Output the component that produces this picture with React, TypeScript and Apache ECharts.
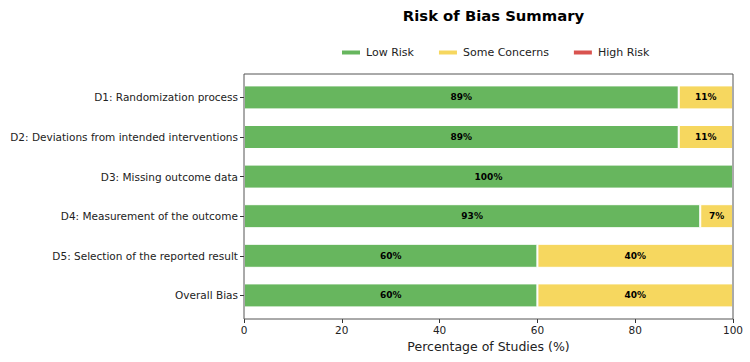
import React, { useEffect, useRef } from "react";
import * as echarts from "echarts";

const categories = [
  "D1: Randomization process",
  "D2: Deviations from intended interventions",
  "D3: Missing outcome data",
  "D4: Measurement of the outcome",
  "D5: Selection of the reported result",
  "Overall Bias",
];
const lowRisk = [88.9, 88.9, 100, 93.3, 60, 60];
const someConcerns = [11.1, 11.1, 0, 6.7, 40, 40];
const highRisk = [0, 0, 0, 0, 0, 0];
const xTicks = [0, 20, 40, 60, 80, 100];

const FONT = "DejaVu Sans";

export default function App() {
  const ref = useRef<HTMLDivElement>(null);
  useEffect(() => {
    if (!ref.current) return;
    const chart = echarts.init(ref.current, null, { renderer: "svg" });
    const left = 244;
    const right = 733;
    const frameTop = 74;
    const frameBottom = 319;
    const gridTop = 77.6;
    const gridHeight = 237.6;
    const label = {
      show: true,
      position: "inside" as const,
      fontFamily: FONT,
      fontSize: 9,
      fontWeight: "bold" as const,
      color: "#000",
      formatter: (p: any) => (p.value > 0 ? Math.round(p.value) + "%" : ""),
    };
    const mk = (name: string, data: number[], color: string) => ({
      name,
      type: "bar",
      stack: "total",
      data,
      barWidth: 24,
      itemStyle: { color, borderColor: "#fff", borderWidth: 1 },
      label,
      emphasis: { disabled: true },
    });
    chart.setOption({
      animation: false,
      title: {
        text: "Risk of Bias Summary",
        left: (left + right) / 2,
        textAlign: "center",
        top: 3,
        textStyle: { fontFamily: FONT, fontSize: 14.8, fontWeight: "bold", color: "#000" },
      },
      legend: {
        top: 42,
        left: 335,
        itemWidth: 20,
        itemHeight: 6,
        itemGap: 23,
        icon: "rect",
        textStyle: { fontFamily: FONT, fontSize: 11, color: "#222" },
        data: ["Low Risk", "Some Concerns", "High Risk"],
      },
      grid: {
        left,
        width: right - left,
        top: gridTop,
        height: gridHeight,
        containLabel: false,
        outerBoundsMode: "none",
      },
      xAxis: {
        type: "value",
        min: 0,
        max: 100,
        interval: 20,
        offset: frameBottom - (gridTop + gridHeight),
        axisLine: { show: false },
        axisTick: { show: true, length: 4, lineStyle: { color: "#333" } },
        splitLine: { show: false },
        axisLabel: {
          fontFamily: FONT,
          fontSize: 10.5,
          color: "#222",
          margin: 5,
          formatter: (v: number) => (xTicks.includes(v) ? String(v) : ""),
        },
        name: "Percentage of Studies (%)",
        nameLocation: "middle",
        nameGap: 21,
        nameTextStyle: { fontFamily: FONT, fontSize: 12.5, color: "#222" },
      },
      yAxis: {
        type: "category",
        data: categories,
        inverse: true,
        axisLine: { show: false },
        axisTick: { show: true, length: 4, alignWithLabel: true, lineStyle: { color: "#333" } },
        axisLabel: { fontFamily: FONT, fontSize: 10.5, color: "#222", margin: 6 },
      },
      graphic: [
        {
          type: "rect",
          shape: { x: left, y: frameTop, width: right - left, height: frameBottom - frameTop },
          style: { fill: "none", stroke: "#555", lineWidth: 1 },
          silent: true,
          z: 100,
        },
      ],
      series: [
        mk("Low Risk", lowRisk, "#67b65e"),
        mk("Some Concerns", someConcerns, "#f6d75f"),
        mk("High Risk", highRisk, "#d9534f"),
      ],
    });
    return () => chart.dispose();
  }, []);
  return <div ref={ref} style={{ width: 750, height: 362, position: "absolute", left: 0, top: 0 }} />;
}
